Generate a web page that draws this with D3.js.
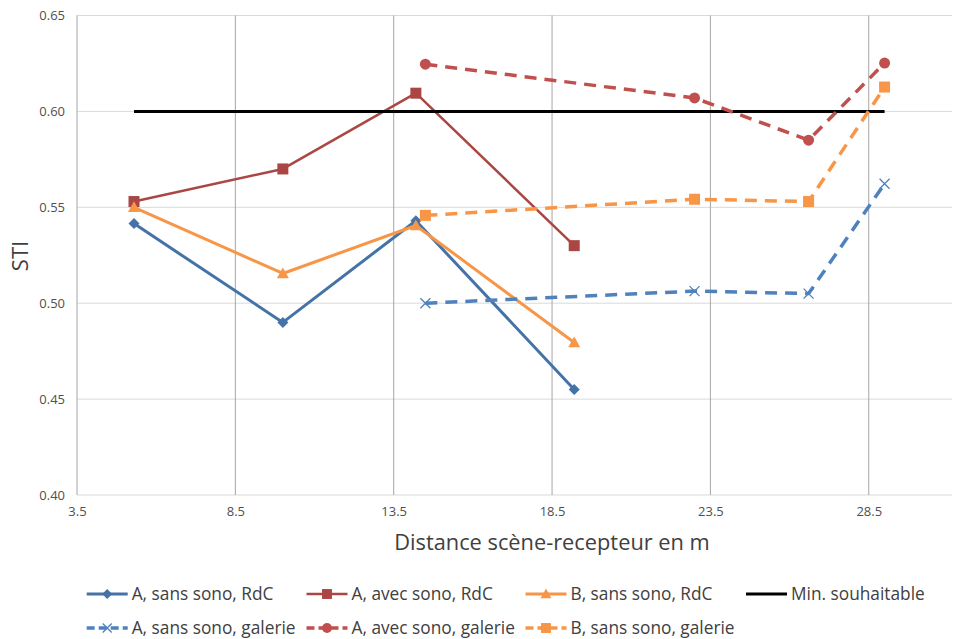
<!DOCTYPE html>
<html>
<head>
<meta charset="utf-8">
<script src="https://cdn.jsdelivr.net/npm/d3@7"></script>
<style>
  html, body { margin: 0; padding: 0; background: #fff; }
  svg text { font-family: "Open Sans", "DejaVu Sans", sans-serif; }
</style>
</head>
<body>
<svg id="chart" width="953" height="639"></svg>
<script>
// ---- Data ----
const xTicks = [3.5, 8.5, 13.5, 18.5, 23.5, 28.5];
const yTicks = [0.40, 0.45, 0.50, 0.55, 0.60, 0.65];
const xRdC = [5.3, 10.0, 14.2, 19.2];
const xGalerie = [14.5, 23.0, 26.6, 29.0];
const xMin = [5.3, 29.0];
const aSansRdC = [0.5415, 0.490, 0.543, 0.455];
const aAvecRdC = [0.553, 0.570, 0.6095, 0.530];
const bSansRdC = [0.550, 0.5155, 0.5405, 0.4795];
const minSouhaitable = [0.60, 0.60];
const aSansGalerie = [0.500, 0.5063, 0.505, 0.5623];
const aAvecGalerie = [0.6246, 0.607, 0.585, 0.6252];
const bSansGalerie = [0.5458, 0.5542, 0.553, 0.6127];
const seriesNames = ["A, sans sono, RdC", "A, avec sono, RdC", "B, sans sono, RdC", "Min. souhaitable",
  "A, sans sono, galerie", "A, avec sono, galerie", "B, sans sono, galerie"];

const series = [
  {name: seriesNames[0], xs: xRdC, ys: aSansRdC, color: "#4572A7", dash: null, marker: "diamond", w: 3},
  {name: seriesNames[1], xs: xRdC, ys: aAvecRdC, color: "#AA4643", dash: null, marker: "square", w: 2.5},
  {name: seriesNames[2], xs: xRdC, ys: bSansRdC, color: "#F79646", dash: null, marker: "triangle", w: 3},
  {name: seriesNames[3], xs: xMin, ys: minSouhaitable, color: "#000000", dash: null, marker: null, w: 3},
  {name: seriesNames[4], xs: xGalerie, ys: aSansGalerie, color: "#4F81BD", dash: "12,8", marker: "x", w: 3.5},
  {name: seriesNames[5], xs: xGalerie, ys: aAvecGalerie, color: "#C0504D", dash: "12,8", marker: "circle", w: 3.5},
  {name: seriesNames[6], xs: xGalerie, ys: bSansGalerie, color: "#F79646", dash: "12,8", marker: "square", w: 3.5}
];

const svg = d3.select("#chart");
const pLeft = 77, pRight = 952, pTop = 15.5, pBottom = 495;
const x = d3.scaleLinear().domain([3.5, 3.5 + (pRight - pLeft) / 31.67]).range([pLeft, pRight]);
const y = d3.scaleLinear().domain([0.40, 0.65]).range([pBottom, pTop]);

// horizontal gridlines
svg.append("g").selectAll("line").data(yTicks.slice(1)).join("line")
  .attr("x1", pLeft).attr("x2", pRight)
  .attr("y1", d => y(d)).attr("y2", d => y(d))
  .attr("stroke", "#d9d9d9").attr("stroke-width", 1);
// bottom axis line
svg.append("line").attr("x1", pLeft).attr("x2", pRight).attr("y1", pBottom).attr("y2", pBottom)
  .attr("stroke", "#d9d9d9").attr("stroke-width", 1);
// vertical gridlines
svg.append("g").selectAll("line").data(xTicks).join("line")
  .attr("x1", d => x(d)).attr("x2", d => x(d))
  .attr("y1", pTop).attr("y2", pBottom)
  .attr("stroke", "#a6a6a6").attr("stroke-width", 1);

// y tick labels
const yAxis = d3.axisLeft(y).tickValues(yTicks).tickFormat(d3.format(".2f")).tickSize(0).tickPadding(12);
const gy = svg.append("g").attr("transform", `translate(${pLeft},0)`).call(yAxis);
gy.select(".domain").remove();
gy.selectAll("text").attr("font-size", 13).attr("fill", "#505050").attr("font-family", "Open Sans");

// x tick labels
const xAxis = d3.axisBottom(x).tickValues(xTicks).tickFormat(d => d.toFixed(1)).tickSize(0).tickPadding(12);
const gx = svg.append("g").attr("transform", `translate(0,${pBottom})`).call(xAxis);
gx.select(".domain").remove();
gx.selectAll("text").attr("font-size", 13).attr("fill", "#505050").attr("font-family", "Open Sans");

// axis titles
svg.append("text").attr("x", 552).attr("y", 550).attr("text-anchor", "middle")
  .attr("font-size", 21.8).attr("fill", "#404040").text("Distance scène-recepteur en m");
svg.append("text").attr("transform", "translate(28,256) rotate(-90)").attr("text-anchor", "middle")
  .attr("font-size", 22).attr("fill", "#404040").text("STI");

function drawMarker(g, type, cx, cy, color, scale) {
  const s = scale || 1;
  if (type === "diamond") {
    const r = 5.5 * s;
    g.append("path").attr("d", `M${cx},${cy - r}L${cx + r},${cy}L${cx},${cy + r}L${cx - r},${cy}Z`).attr("fill", color);
  } else if (type === "square") {
    const r = 5.5 * s;
    g.append("rect").attr("x", cx - r).attr("y", cy - r).attr("width", 2 * r).attr("height", 2 * r).attr("fill", color);
  } else if (type === "triangle") {
    const r = 6 * s;
    g.append("path").attr("d", `M${cx},${cy - r}L${cx + r},${cy + r * 0.8}L${cx - r},${cy + r * 0.8}Z`).attr("fill", color);
  } else if (type === "circle") {
    g.append("circle").attr("cx", cx).attr("cy", cy).attr("r", 5.5 * s).attr("fill", color);
  } else if (type === "x") {
    const r = 5 * s;
    g.append("path").attr("d", `M${cx - r},${cy - r}L${cx + r},${cy + r}M${cx - r},${cy + r}L${cx + r},${cy - r}`)
      .attr("stroke", color).attr("stroke-width", 1.3).attr("fill", "none");
  }
}

const line = d3.line().x(d => x(d[0])).y(d => y(d[1]));
series.forEach(s => {
  const pts = s.xs.map((v, i) => [v, s.ys[i]]);
  const g = svg.append("g");
  g.append("path").attr("d", line(pts)).attr("fill", "none").attr("stroke", s.color)
    .attr("stroke-width", s.w).attr("stroke-dasharray", s.dash).attr("stroke-linejoin", "round");
  if (s.marker) pts.forEach(p => drawMarker(g, s.marker, x(p[0]), y(p[1]), s.color, 1));
});

// legend
const colX = [86.7, 306.5, 525.5, 746];
const rowY = [594, 628];
const legendPos = [[0, 0], [1, 0], [2, 0], [3, 0], [0, 1], [1, 1], [2, 1]];
series.forEach((s, i) => {
  const [c, r] = legendPos[i];
  const lx = colX[c], ly = rowY[r];
  const g = svg.append("g");
  g.append("line").attr("x1", lx).attr("x2", lx + 41).attr("y1", ly).attr("y2", ly)
    .attr("stroke", s.color).attr("stroke-width", s.w).attr("stroke-dasharray", s.dash ? "8,4" : null);
  if (s.marker) drawMarker(g, s.marker, lx + 20.5, ly, s.color, 0.9);
  g.append("text").attr("x", lx + 45).attr("y", ly + 6).attr("font-size", 17.3).attr("fill", "#404040").text(s.name);
});
</script>
</body>
</html>
